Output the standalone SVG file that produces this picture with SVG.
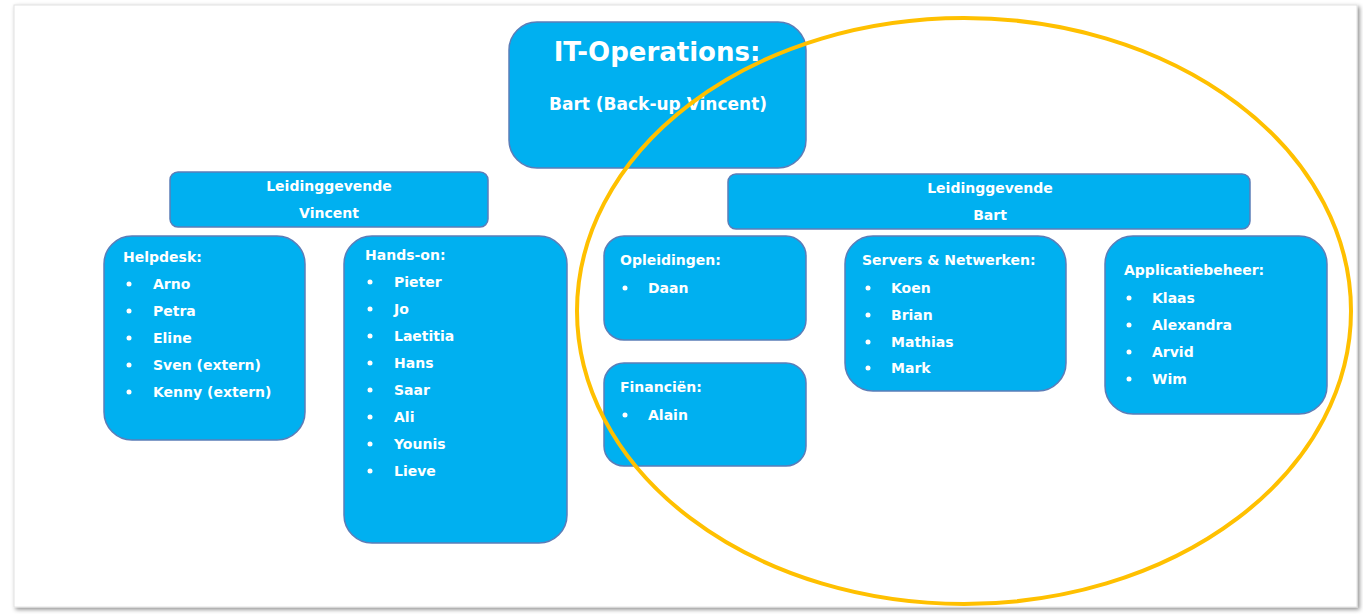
<svg xmlns="http://www.w3.org/2000/svg" width="1363" height="614" viewBox="0 0 1363 614">
<style>
.box{fill:#00B0F0;stroke:#5B7DB8;stroke-width:1.5}
.t{font-family:"DejaVu Sans",Verdana,sans-serif;font-weight:bold;fill:#FFFFFF;font-size:14px}
.c{text-anchor:middle}
.h1{font-size:26px}
.h2{font-size:17px}
.s13{font-size:14px}
.b{fill:#FFFFFF}
</style>
<defs>
<filter id="sh" x="-5%" y="-5%" width="110%" height="110%">
<feGaussianBlur in="SourceAlpha" stdDeviation="2"/>
<feOffset dx="2" dy="2" result="o"/>
<feFlood flood-color="#000" flood-opacity="0.45"/>
<feComposite in2="o" operator="in"/>
<feMerge><feMergeNode/><feMergeNode in="SourceGraphic"/></feMerge>
</filter>
</defs>
<rect width="1363" height="614" fill="#FFFFFF"/>
<rect x="14" y="5" width="1343" height="602" fill="#FFFFFF" stroke="#E2E2E2" stroke-width="1" filter="url(#sh)"/>

<g id="it-operations">
<rect class="box" x="509" y="22" width="297" height="146" rx="28"/>
<text class="t c h1" x="657" y="61">IT-Operations:</text>
<text class="t c h2" x="658" y="110">Bart (Back-up Vincent)</text>
</g>

<g id="leiding-vincent">
<rect class="box" x="170" y="172" width="318" height="55" rx="8"/>
<text class="t c s13" x="329" y="191">Leidinggevende</text>
<text class="t c s13" x="329" y="218">Vincent</text>
</g>

<g id="leiding-bart">
<rect class="box" x="728" y="174" width="522" height="55" rx="8"/>
<text class="t c s13" x="990" y="193">Leidinggevende</text>
<text class="t c s13" x="990" y="220">Bart</text>
</g>

<g id="helpdesk">
<rect class="box" x="104" y="236" width="201" height="204" rx="28"/>
<text class="t" x="123" y="262">Helpdesk:</text>
<circle class="b" cx="129" cy="284" r="2.5"/><text class="t" x="153" y="289">Arno</text>
<circle class="b" cx="129" cy="311" r="2.5"/><text class="t" x="153" y="316">Petra</text>
<circle class="b" cx="129" cy="338" r="2.5"/><text class="t" x="153" y="343">Eline</text>
<circle class="b" cx="129" cy="365" r="2.5"/><text class="t" x="153" y="370">Sven (extern)</text>
<circle class="b" cx="129" cy="392" r="2.5"/><text class="t" x="153" y="397">Kenny (extern)</text>
</g>

<g id="hands-on">
<rect class="box" x="344" y="236" width="223" height="307" rx="28"/>
<text class="t" x="365" y="260">Hands-on:</text>
<circle class="b" cx="370" cy="282" r="2.5"/><text class="t" x="394" y="287">Pieter</text>
<circle class="b" cx="370" cy="309" r="2.5"/><text class="t" x="394" y="314">Jo</text>
<circle class="b" cx="370" cy="336" r="2.5"/><text class="t" x="394" y="341">Laetitia</text>
<circle class="b" cx="370" cy="363" r="2.5"/><text class="t" x="394" y="368">Hans</text>
<circle class="b" cx="370" cy="390" r="2.5"/><text class="t" x="394" y="395">Saar</text>
<circle class="b" cx="370" cy="417" r="2.5"/><text class="t" x="394" y="422">Ali</text>
<circle class="b" cx="370" cy="444" r="2.5"/><text class="t" x="394" y="449">Younis</text>
<circle class="b" cx="370" cy="471" r="2.5"/><text class="t" x="394" y="476">Lieve</text>
</g>

<g id="opleidingen">
<rect class="box" x="604" y="236" width="202" height="104" rx="20"/>
<text class="t" x="620" y="265">Opleidingen:</text>
<circle class="b" cx="625" cy="288" r="2.5"/><text class="t" x="648" y="293">Daan</text>
</g>

<g id="financien">
<rect class="box" x="604" y="363" width="202" height="103" rx="20"/>
<text class="t" x="620" y="392">Financiën:</text>
<circle class="b" cx="625" cy="415" r="2.5"/><text class="t" x="648" y="420">Alain</text>
</g>

<g id="servers">
<rect class="box" x="845" y="236" width="221" height="155" rx="28"/>
<text class="t" x="862" y="265">Servers &amp; Netwerken:</text>
<circle class="b" cx="868" cy="288" r="2.5"/><text class="t" x="891" y="293">Koen</text>
<circle class="b" cx="868" cy="315" r="2.5"/><text class="t" x="891" y="320">Brian</text>
<circle class="b" cx="868" cy="342" r="2.5"/><text class="t" x="891" y="347">Mathias</text>
<circle class="b" cx="868" cy="368" r="2.5"/><text class="t" x="891" y="373">Mark</text>
</g>

<g id="applicatiebeheer">
<rect class="box" x="1105" y="236" width="222" height="178" rx="28"/>
<text class="t" x="1124" y="275">Applicatiebeheer:</text>
<circle class="b" cx="1129" cy="298" r="2.5"/><text class="t" x="1152" y="303">Klaas</text>
<circle class="b" cx="1129" cy="325" r="2.5"/><text class="t" x="1152" y="330">Alexandra</text>
<circle class="b" cx="1129" cy="352" r="2.5"/><text class="t" x="1152" y="357">Arvid</text>
<circle class="b" cx="1129" cy="379" r="2.5"/><text class="t" x="1152" y="384">Wim</text>
</g>

<g id="connectors"></g>

<ellipse id="highlight" cx="964" cy="311" rx="387" ry="293" fill="none" stroke="#FFC000" stroke-width="4"/>
</svg>
